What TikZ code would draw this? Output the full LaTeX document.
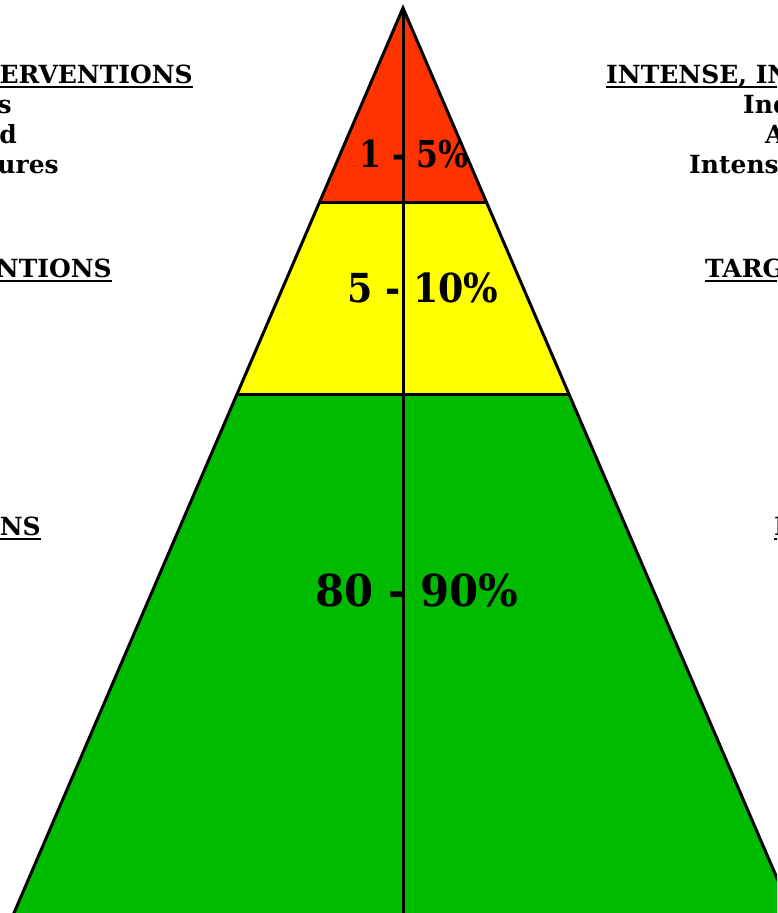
\documentclass[tikz,border=0pt]{standalone}
\usepackage{fontspec}
\setmainfont{DejaVu Serif}
\definecolor{pyrred}{RGB}{255,51,0}
\definecolor{pyryellow}{RGB}{255,255,0}
\definecolor{pyrgreen}{RGB}{0,187,0}
\begin{document}
\begin{tikzpicture}[x=1pt,y=-1pt,
  outline/.style={draw=black,line width=3pt,line join=miter},
  side/.style={inner sep=0pt,font=\fontsize{25}{30}\selectfont\bfseries},
  pct/.style={inner sep=0pt,font=\bfseries},
  uline/.style={line width=2.2pt}]
\useasboundingbox (0,0) rectangle (777,913);
\clip (0,0) rectangle (777,913);
% corner coordinates
\coordinate (apex) at (403,8);
\coordinate (rl) at (319.6,202);
\coordinate (rr) at (486.4,202);
\coordinate (yl) at (237,394);
\coordinate (yr) at (569,394);
\coordinate (gl) at (11,920);
\coordinate (gr) at (795,920);
\coordinate (mid) at (403,920);
% tiers
\fill[pyrred] (apex) -- (rr) -- (rl) -- cycle;
\fill[pyryellow] (rl) -- (rr) -- (yr) -- (yl) -- cycle;
\fill[pyrgreen] (yl) -- (yr) -- (gr) -- (gl) -- cycle;
\draw[outline] (rl) -- (rr);
\draw[outline] (yl) -- (yr);
\draw[outline] (gl) -- (apex) -- (gr);
\draw[line width=3pt] (apex) -- (mid);
% percentages
\node[pct,font=\fontsize{37}{40}\selectfont\bfseries] (p1) at (414,154) {\scalebox{0.85}[1]{1 - 5\%}};
\node[pct,font=\fontsize{40}{44}\selectfont\bfseries] (p2) at (423,288) {\scalebox{0.91}[1]{5 - 10\%}};
\node[pct,font=\fontsize{44}{48}\selectfont\bfseries] (p3) at (417,590) {\scalebox{0.95}[1]{80 - 90\%}};
% left texts
\node[side,anchor=base east] (l1) at (193,83) {ERVENTIONS};
\node[side,anchor=base east] (l2) at (12,113) {s};
\node[side,anchor=base east] (l3) at (17,143) {d};
\node[side,anchor=base east] (l4) at (59,173) {ures};
\node[side,anchor=base east] (l5) at (112,277) {NTIONS};
\node[side,anchor=base east] (l6) at (41,535) {ONS};
% right texts
\node[side,anchor=base west] (r1) at (606,83) {INTENSE, INDIVIDUAL};
\node[side,anchor=base west] (r2) at (743,113) {Individual};
\node[side,anchor=base west] (r3) at (765,143) {Assessment};
\node[side,anchor=base west] (r4) at (689,173) {Intensive};
\node[side,anchor=base west] (r5) at (705,277) {TARGETED};
\node[side,anchor=base west] (r6) at (774,535) {I};
% underlines
\foreach \n in {l1,l5,l6,r1,r5,r6}
  \draw[uline] ([yshift=-4pt]\n.base west) -- ([yshift=-4pt]\n.base east);
\end{tikzpicture}
\end{document}
